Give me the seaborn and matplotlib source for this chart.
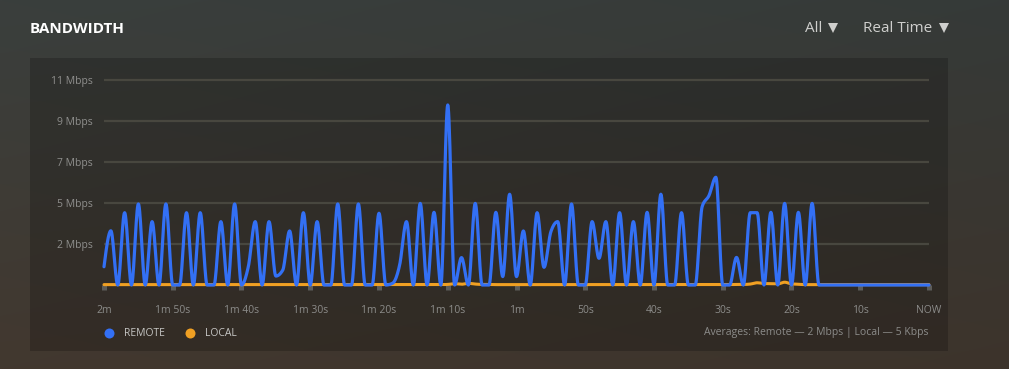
import numpy as np
import pandas as pd
import matplotlib
matplotlib.use("Agg")
import matplotlib.pyplot as plt
import seaborn as sns
from matplotlib.patches import Rectangle

# one sample per second, 2 minutes ago -> now
seconds = list(range(121))
remote_mbps = [
    0.98, 2.91, 0, 3.88, 0, 4.35, 0, 3.4, 0, 4.35,
    0, 0, 3.88, 0, 3.88, 0, 0, 3.4, 0, 4.35,
    0, 1.0, 3.4, 0, 3.4, 0.48, 0.8, 2.9, 0, 3.88,
    0, 3.4, 0, 0, 4.35, 0, 0, 4.35, 0, 0,
    3.85, 0, 0.1, 1.07, 3.4, 0, 4.38, 0, 3.9, 0,
    9.66, 0, 1.47, 0, 4.38, 0, 0, 3.9, 0.45, 4.87,
    0.45, 2.9, 0, 3.88, 0.95, 2.86, 3.4, 0, 4.35, 0,
    0, 3.4, 1.43, 3.4, 0, 3.88, 0, 3.4, 0, 3.9,
    0, 4.87, 0, 0, 3.88, 0, 0, 4.2, 4.8, 5.78,
    0, 0, 1.48, 0, 3.88, 3.88, 0, 3.9, 0, 4.38,
    0, 3.9, 0, 4.38, 0, 0, 0, 0, 0, 0,
    0, 0, 0, 0, 0, 0, 0, 0, 0, 0,
    0,
]
local_mbps = [
    0.02, 0.02, 0.02, 0.02, 0.02, 0.02, 0.02, 0.02, 0.02, 0.02,
    0.02, 0.02, 0.02, 0.02, 0.02, 0.02, 0.02, 0.02, 0.02, 0.02,
    0.02, 0.02, 0.02, 0.02, 0.02, 0.02, 0.02, 0.02, 0.02, 0.02,
    0.02, 0.02, 0.02, 0.02, 0.02, 0.02, 0.02, 0.02, 0.02, 0.02,
    0.02, 0.02, 0.02, 0.02, 0.02, 0.02, 0.02, 0.02, 0.02, 0.02,
    0.03, 0.07, 0.04, 0.09, 0.05, 0.03, 0.03, 0.02, 0.02, 0.02,
    0.02, 0.02, 0.02, 0.02, 0.02, 0.02, 0.02, 0.02, 0.02, 0.02,
    0.02, 0.02, 0.02, 0.02, 0.02, 0.02, 0.02, 0.02, 0.02, 0.02,
    0.02, 0.02, 0.02, 0.02, 0.02, 0.02, 0.02, 0.02, 0.02, 0.02,
    0.02, 0.02, 0.03, 0.03, 0.05, 0.12, 0.08, 0.07, 0.06, 0.15,
    0.06, 0.04, 0.02, 0.02, 0.02, 0.02, 0.02, 0.02, 0.02, 0.02,
    0.02, 0.02, 0.02, 0.02, 0.02, 0.02, 0.02, 0.02, 0.02, 0.02,
    0.02,
]
x_tick_pos = list(range(0, 121, 10))
x_tick_labels = ["2m", "1m 50s", "1m 40s", "1m 30s", "1m 20s", "1m 10s", "1m",
                 "50s", "40s", "30s", "20s", "10s", "NOW"]
y_tick_pos = [2.2, 4.4, 6.6, 8.8, 11.0]
y_tick_labels = ["2 Mbps", "5 Mbps", "7 Mbps", "9 Mbps", "11 Mbps"]

BLUE = "#3370f5"
ORANGE = "#f0a023"
W, H = 1009, 369


def monotone_curve(x, y, steps=16):
    # monotone cubic (like d3 curveMonotoneX), just for drawing the line
    x = np.asarray(x, float)
    y = np.asarray(y, float)
    h = np.diff(x)
    s = np.diff(y) / h
    t = np.zeros_like(y)
    for k in range(1, len(y) - 1):
        p = (s[k - 1] * h[k] + s[k] * h[k - 1]) / (h[k - 1] + h[k])
        t[k] = (np.sign(s[k - 1]) + np.sign(s[k])) * min(abs(s[k - 1]), abs(s[k]), 0.5 * abs(p))
    t[0] = (3 * s[0] - t[1]) / 2
    t[-1] = (3 * s[-1] - t[-2]) / 2
    xs, ys = [], []
    u = np.linspace(0, 1, steps, endpoint=False)
    h00 = 2 * u**3 - 3 * u**2 + 1
    h10 = u**3 - 2 * u**2 + u
    h01 = -2 * u**3 + 3 * u**2
    h11 = u**3 - u**2
    for k in range(len(y) - 1):
        xs.append(x[k] + u * h[k])
        ys.append(h00 * y[k] + h10 * h[k] * t[k] + h01 * y[k + 1] + h11 * h[k] * t[k + 1])
    xs.append([x[-1]])
    ys.append([y[-1]])
    return np.concatenate(xs), np.concatenate(ys)


def fx(px):
    return px / W


def fy(py):
    return 1 - py / H


sns.set_theme(style="dark")
plt.rcParams['font.family'] = ['Open Sans', 'DejaVu Sans']

fig = plt.figure(figsize=(W / 100, H / 100), dpi=100)

# background gradient + card
bg = fig.add_axes([0, 0, 1, 1], zorder=-10)
top = np.array([58, 63, 61]) / 255
bottom = np.array([66, 56, 47]) / 255
rows = np.linspace(0, 1, 200)[:, None, None]
cols = np.linspace(0, 1, 300)[None, :, None]
grad = top * (1 - rows) + bottom * rows
grad = grad * (1 - 0.08 * cols)
bg.imshow(grad, aspect="auto", extent=[0, 1, 0, 1], interpolation="bilinear")
bg.set_axis_off()
fig.patches.append(Rectangle((fx(30), fy(351)), fx(948) - fx(30), fy(58) - fy(351),
                             transform=fig.transFigure, facecolor="black", alpha=0.2,
                             edgecolor="none", zorder=-5))

# chart axes: 0 at y=285px, 11 at y=80px
px_per_unit = 205 / 11
ytop = 11.3
ax = fig.add_axes([fx(104), fy(285), (929 - 104) / W, ytop * px_per_unit / H])
ax.set_facecolor("none")

lx, ly = monotone_curve(seconds, local_mbps)
rx, ry = monotone_curve(seconds, remote_mbps)
local_df = pd.DataFrame({"t": lx, "v": ly})
remote_df = pd.DataFrame({"t": rx, "v": ry})
sns.lineplot(data=local_df, x="t", y="v", ax=ax, color=ORANGE, linewidth=2.2,
             estimator=None, sort=False)
sns.lineplot(data=remote_df, x="t", y="v", ax=ax, color=BLUE, linewidth=2.3,
             estimator=None, sort=False)
for ln in ax.lines:
    ln.set_clip_on(False)
    ln.set_solid_joinstyle("round")
    ln.set_solid_capstyle("round")

ax.set_xlim(0, 120)
ax.set_ylim(0, ytop)
ax.set_xlabel("")
ax.set_ylabel("")
ax.set_xticks(x_tick_pos)
ax.set_xticklabels(x_tick_labels)
ax.set_yticks(y_tick_pos)
ax.set_yticklabels(y_tick_labels)
ax.tick_params(axis="x", bottom=True, direction="out", length=3.6, width=3.6,
               color="#5c5c5a", pad=11, labelsize=7.5, labelcolor="#8c8c8a")
ax.tick_params(axis="y", left=False, length=0, pad=8, labelsize=7.5, labelcolor="#8f8f8d")
ax.yaxis.grid(True, color="#48473f", linewidth=1.6)
ax.xaxis.grid(False)
for sp in ax.spines.values():
    sp.set_visible(False)

# header
fig.text(fx(30), fy(29), "BANDWIDTH", color="white", fontsize=11, fontweight="bold",
         va="center", ha="left")
fig.text(fx(805), fy(29), "All", color="#cfcfcd", fontsize=11, va="center", ha="left")
fig.text(fx(863), fy(29), "Real Time", color="#cfcfcd", fontsize=11, va="center", ha="left")
for cx in (832.5, 944):
    fig.add_artist(plt.Line2D([fx(cx)], [fy(28)], marker="v", markersize=6.5,
                              color="#cfcfcd", markeredgewidth=0, transform=fig.transFigure))

# legend
for cx, tx, col, lab in ((109, 124, BLUE, "REMOTE"), (190, 205.5, ORANGE, "LOCAL")):
    fig.add_artist(plt.Line2D([fx(cx)], [fy(333)], marker="o", markersize=7.2,
                              color=col, markeredgewidth=0, transform=fig.transFigure))
    fig.text(fx(tx), fy(333), lab, color="#c6c6c4", fontsize=7.5, va="center", ha="left")
fig.text(fx(929), fy(333), "Averages: Remote \u2014 2 Mbps | Local \u2014 5 Kbps",
         color="#8c8c8a", fontsize=7.5, va="center", ha="right")

fig.savefig("out.png", dpi=100)
